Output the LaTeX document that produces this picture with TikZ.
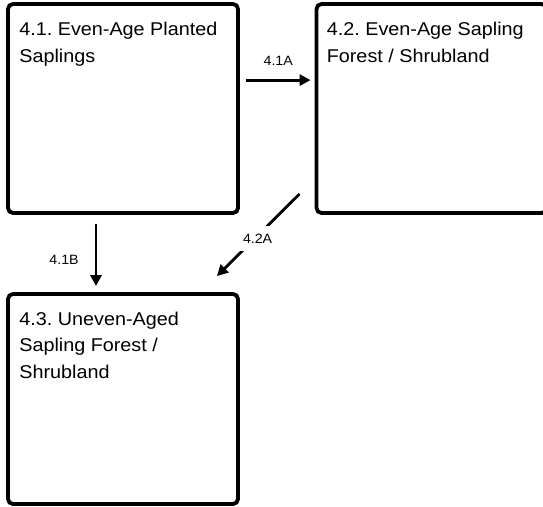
\documentclass[tikz,border=0pt]{standalone}
\usepackage{fontspec}
\setmainfont{Liberation Sans}
\newfontfamily\boxfont[FakeStretch=1.07]{Liberation Sans}
\newfontfamily\edgefont[FakeStretch=1.05]{Liberation Sans}
\usetikzlibrary{arrows.meta,calc}
\frenchspacing

\begin{document}
\begin{tikzpicture}[x=1pt,y=-1pt,
  stage/.style={draw,line width=3.8pt,rounded corners=5pt,
    minimum width=230pt,minimum height=209pt,inner sep=0pt},
  stagetext/.style={anchor=north west,inner sep=0pt,align=left,
    font=\boxfont\fontsize{18.5}{26.5}\selectfont},
  flow/.style={line width=2.8pt,-{Triangle[length=11pt,width=11pt]}},
  flowlabel/.style={font=\edgefont\fontsize{13.5}{15}\selectfont,inner sep=0pt},
  gaplabel/.style={flowlabel,fill=white,inner xsep=4pt,inner ysep=8pt}
]
\clip (0,0) rectangle (543,506);

% the three stage boxes
\node[stage] (b1) at (123,108.5) {};
\node[stage] (b2) at (431.5,108.5) {};
\node[stage,minimum height=210pt] (b3) at (123,399) {};

% box titles
\node[stagetext] (t1) at ($(b1.north west)+(13,20)$) {4.1. Even-Age Planted\\Saplings};
\node[stagetext] (t2) at ($(b2.north west)+(12,20)$) {4.2. Even-Age Sapling\\Forest / Shrubland};
\node[stagetext] (t3) at ($(b3.north west)+(13,19.5)$) {4.3. Uneven-Aged\\Sapling Forest /\\Shrubland};

% transitions
\draw[flow] ($(b1.north east)+(6,78)$) -- ($(b2.north west)+(-4,78)$)
  node[flowlabel,midway,above=13pt] (l1) {4.1A};
\draw[flow] ($(b1.south)+(-27,9)$) -- ($(b3.north)+(-27,-6)$)
  node[flowlabel,midway,left=16pt,yshift=-5pt] (l2) {4.1B};
\draw[flow] ($(b2.south west)+(-15,-21)$) -- ($(b3.north east)+(-23,-16)$)
  node[gaplabel,pos=0.52,yshift=-2pt,xshift=1pt] (l3) {4.2A};
\end{tikzpicture}
\end{document}
